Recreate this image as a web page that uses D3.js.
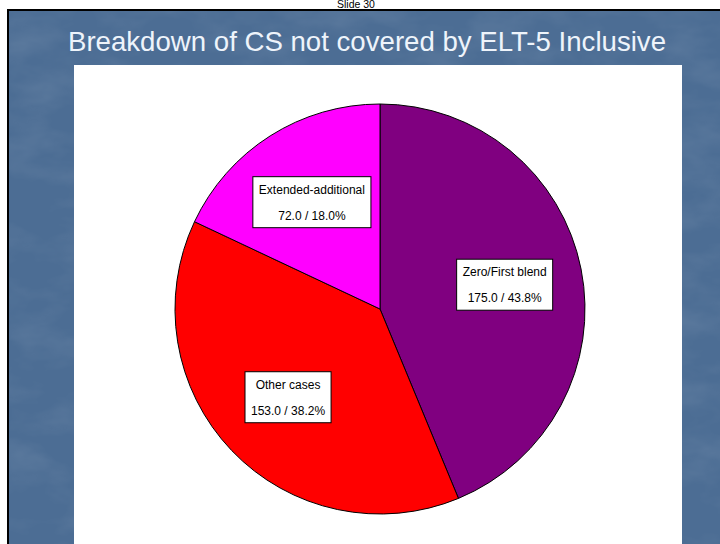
<!DOCTYPE html>
<html><head><meta charset="utf-8">
<script src="https://cdn.jsdelivr.net/npm/d3@7"></script>
<style>html,body{margin:0;padding:0;background:#fff;}svg{display:block;}</style>
</head><body>
<svg id="c" width="720" height="544"></svg>
<script>
const categories = ["Zero/First blend", "Other cases", "Extended-additional"];
const values = [175.0, 153.0, 72.0];
const percents = ["43.8%", "38.2%", "18.0%"];
const colors = ["#800080", "#FF0000", "#FF00FF"];
const title = "Breakdown of CS not covered by ELT-5 Inclusive";
const slideLabel = "Slide 30";

const svg = d3.select("#c");
const defs = svg.append("defs");
const f = defs.append("filter").attr("id","tex").attr("x",0).attr("y",0).attr("width","100%").attr("height","100%");
f.append("feTurbulence").attr("type","fractalNoise").attr("baseFrequency","0.015 0.03").attr("numOctaves",4).attr("seed",3).attr("result","n");
f.append("feColorMatrix").attr("in","n").attr("type","matrix")
  .attr("values","0 0 0 0 1  0 0 0 0 1  0 0 0 0 1  0 0 0 0.9 -0.38").attr("result","a");
f.append("feComposite").attr("in","a").attr("in2","SourceGraphic").attr("operator","in");

// slide frame
svg.append("rect").attr("x",7).attr("y",9).attr("width",713).attr("height",535).attr("fill","#000");
svg.append("rect").attr("x",9).attr("y",11).attr("width",711).attr("height",533).attr("fill","#4c6d94");
svg.append("rect").attr("x",9).attr("y",11).attr("width",711).attr("height",533).attr("fill","#4c6d94").attr("filter","url(#tex)").attr("opacity",0.18);

svg.append("text").attr("x",356).attr("y",8).attr("text-anchor","middle")
  .attr("font-family","Liberation Sans, Arial, sans-serif").attr("font-size",10.5).attr("fill","#000").text(slideLabel);

svg.append("text").attr("x",367).attr("y",51).attr("text-anchor","middle")
  .attr("font-family","Liberation Sans, Arial, sans-serif").attr("font-size",28).attr("fill","#eef4fb")
  .attr("textLength",598).attr("lengthAdjust","spacingAndGlyphs").text(title);

// chart area
svg.append("rect").attr("x",74).attr("y",65).attr("width",608).attr("height",479).attr("fill","#fff");

const cx = 380, cy = 309, R = 205;
const pie = d3.pie().sort(null).value(d => d)(values);
const arc = d3.arc().innerRadius(0).outerRadius(R);
const labelArc = d3.arc().innerRadius(R*0.62).outerRadius(R*0.62);

const g = svg.append("g").attr("transform",`translate(${cx},${cy})`);
g.selectAll("path.slice").data(pie).join("path").attr("class","slice")
  .attr("d",arc).attr("fill",(d,i)=>colors[i]).attr("stroke","#000").attr("stroke-width",1);

const lg = g.selectAll("g.lab").data(pie).join("g").attr("class","lab")
  .attr("transform",d=>{const c=labelArc.centroid(d);return `translate(${c[0]},${c[1]})`;});
lg.each(function(d,i){
  const s = d3.select(this);
  const rect = s.append("rect").attr("fill","#fff").attr("stroke","#000").attr("stroke-width",1);
  const t1 = s.append("text").attr("text-anchor","middle").attr("y",-8)
    .attr("font-family","Liberation Sans, Arial, sans-serif").attr("font-size",12).attr("fill","#000").text(categories[i]);
  const t2 = s.append("text").attr("text-anchor","middle").attr("y",18)
    .attr("font-family","Liberation Sans, Arial, sans-serif").attr("font-size",12).attr("fill","#000")
    .text(values[i].toFixed(1)+" / "+percents[i]);
  const w = Math.max(t1.node().getComputedTextLength(), t2.node().getComputedTextLength()) + 12;
  rect.attr("x",-w/2).attr("y",-25).attr("width",w).attr("height",51);
});
</script>
</body></html>
